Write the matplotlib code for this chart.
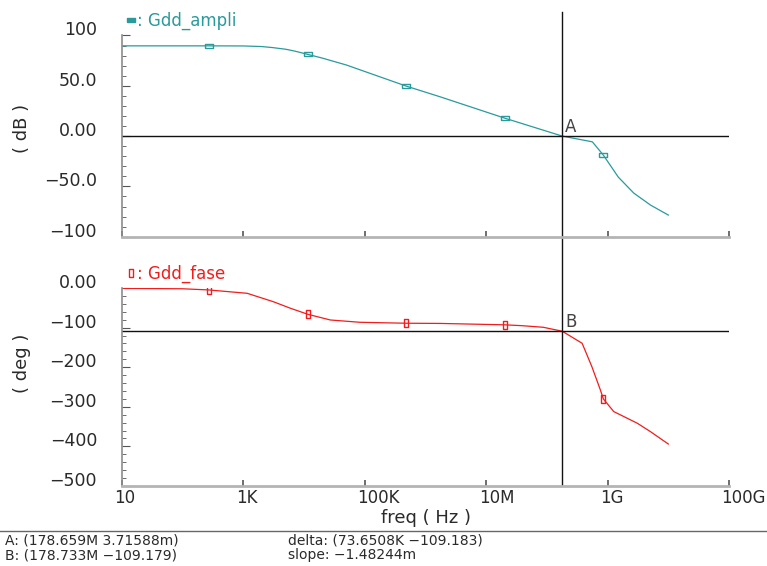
import matplotlib.pyplot as plt
from matplotlib.lines import Line2D
from matplotlib.path import Path
from matplotlib.ticker import FixedLocator, MultipleLocator, NullLocator
from matplotlib.transforms import ScaledTranslation

# Gdd_ampli: gain in dB against frequency in Hz
amp_freq = [10, 100, 270, 1e3, 2e3, 3e3, 5e3, 7e3, 1.15e4, 2e4, 5e4, 4.8e5,
            1.75e6, 2e7, 1.78659e8, 5.6e8, 8.5e8, 1.5e9, 2.7e9, 5.1e9, 1e10]
amp_db = [89.7, 89.7, 89.7, 89.6, 89.0, 88.0, 86.3, 84.5, 81.2, 77.5, 70.6, 49.7,
          39.0, 17.9, 0.0037, -5.7, -18.9, -40.8, -56.7, -68.6, -78.5]
amp_marks = [2, 8, 11, 13, 16]

# Gdd_fase: phase in degrees against frequency in Hz
pha_freq = [10, 100, 270, 1.15e3, 3.1e3, 5.9e3, 1.15e4, 2.7e4, 8.3e4, 4.8e5,
            1.75e6, 2e7, 3.9e7, 8.7e7, 1.78733e8, 3.8e8, 5.5e8, 7.6e8, 8.5e8,
            1.26e9, 3.1e9, 5.1e9, 1e10]
pha_deg = [-1, -2, -5, -13.4, -34.6, -51, -66.4, -80.8, -86.6, -89,
           -89.5, -93, -95.2, -99.2, -109.179, -139.6, -198.7, -257.6, -280,
           -312, -341.7, -362.9, -394]
pha_marks = [2, 6, 9, 11, 18]

# cursor readouts
cursor_a = (178.659e6, 3.71588e-3)
cursor_b = (178.733e6, -109.179)
readout = [
    ("A: (178.659M 3.71588m)", "delta: (73.6508K \u2212109.183)"),
    ("B: (178.733M \u2212109.179)", "slope: \u22121.48244m"),
]

x_ticks = [1e1, 1e3, 1e5, 1e7, 1e9, 1e11]
x_labels = ["10", "1K", "100K", "10M", "1G", "100G"]
amp_ticks = [-100, -50, 0, 50, 100]
amp_labels = ["\u2212100", "\u221250.0", "0.00", "50.0", "100"]
pha_ticks = [-500, -400, -300, -200, -100, 0]
pha_labels = ["\u2212500", "\u2212400", "\u2212300", "\u2212200", "\u2212100", "0.00"]

TEAL = "#2a9a9a"
RED = "#f21c1c"
INK = "#2a2a2a"

plt.rcParams["font.family"] = ["DejaVu Sans"]

# small rectangle markers used on the traces
hbox = Path([(-1, -0.42), (1, -0.42), (1, 0.42), (-1, 0.42), (-1, -0.42)])
vbox = Path([(-0.42, -1), (0.42, -1), (0.42, 1), (-0.42, 1), (-0.42, -1)])

fig = plt.figure(figsize=(7.67, 5.66), dpi=100)
ax_amp = fig.add_axes([0.1591, 0.5818, 0.7914, 0.3555])
ax_pha = fig.add_axes([0.1591, 0.1413, 0.7914, 0.3499])


def style_axes(ax, ticks, labels, minor):
    ax.set_xscale("log")
    ax.set_xlim(1e1, 1e11)
    ax.xaxis.set_major_locator(FixedLocator(x_ticks))
    ax.xaxis.set_minor_locator(NullLocator())
    ax.set_ylim(ticks[0], ticks[-1])
    ax.set_yticks(ticks, labels, va="baseline")
    ax.yaxis.set_minor_locator(MultipleLocator(minor))
    for side in ("top", "right"):
        ax.spines[side].set_visible(False)
    ax.spines["left"].set_color("#8c8c8c")
    ax.spines["left"].set_linewidth(1.2)
    ax.spines["bottom"].set_color("#b4b4b4")
    ax.spines["bottom"].set_linewidth(2)
    ax.tick_params(which="both", direction="in", colors="#555555",
                   labelcolor=INK, labelsize=12.5)
    ax.tick_params(axis="y", which="major", length=6, pad=18)
    ax.tick_params(axis="y", which="minor", length=3)
    ax.tick_params(axis="x", which="major", length=4, width=1.2, pad=2, labelsize=12)


style_axes(ax_amp, amp_ticks, amp_labels, 10)
style_axes(ax_pha, pha_ticks, pha_labels, 20)

ax_amp.tick_params(axis="x", labelbottom=False)
ax_pha.set_xticks(x_ticks, x_labels, ha="left")
for lbl in ax_pha.get_xticklabels():
    lbl.set_transform(lbl.get_transform() + ScaledTranslation(-0.075, 0, fig.dpi_scale_trans))

# traces
ax_amp.plot(amp_freq, amp_db, color=TEAL, lw=0.9, marker=hbox, ms=5.5,
            mec=TEAL, mfc="none", mew=1, markevery=amp_marks)
ax_pha.plot(pha_freq, pha_deg, color=RED, lw=0.9, marker=vbox, ms=5.5,
            mec=RED, mfc="none", mew=1, markevery=pha_marks)

# cursors
ax_amp.axvline(cursor_a[0], ymin=-0.256, ymax=1.117, color="#111111", lw=1, clip_on=False)
ax_pha.axvline(cursor_a[0], color="#111111", lw=1)
ax_amp.axhline(cursor_a[1], color="#111111", lw=1)
ax_pha.axhline(cursor_b[1], color="#111111", lw=1)
ax_amp.annotate("A", xy=cursor_a, xytext=(2, 0), textcoords="offset points",
                ha="left", va="bottom", fontsize=12, color="#444444")
ax_pha.annotate("B", xy=cursor_b, xytext=(2, 0), textcoords="offset points",
                ha="left", va="bottom", fontsize=12, color="#444444")

# legends
ax_amp.legend(handles=[Line2D([], [], ls="none", marker=hbox, ms=5.5, mec=TEAL,
                              mfc=TEAL, mew=1)],
              labels=[": Gdd_ampli"], loc="lower left", bbox_to_anchor=(0, 1),
              frameon=False, handlelength=0.5, handletextpad=0.1, borderpad=0,
              borderaxespad=0.3, fontsize=12, labelcolor=TEAL)
ax_pha.legend(handles=[Line2D([], [], ls="none", marker=vbox, ms=5.5, mec=RED,
                              mfc="none", mew=1)],
              labels=[": Gdd_fase"], loc="lower left", bbox_to_anchor=(0, 1),
              frameon=False, handlelength=0.5, handletextpad=0.1, borderpad=0,
              borderaxespad=0.3, fontsize=12, labelcolor=RED)

# axis titles
ax_amp.set_ylabel("( dB )", fontsize=13, color=INK, va="center")
ax_amp.yaxis.set_label_coords(-0.165, 0.54)
ax_pha.set_ylabel("( deg )", fontsize=13, color=INK, va="center")
ax_pha.yaxis.set_label_coords(-0.165, 0.62)
ax_pha.set_xlabel("freq ( Hz )", fontsize=13, color=INK)
ax_pha.xaxis.set_label_coords(0.5, -0.116)

# readout strip under the plots
fig.add_artist(Line2D([0, 1], [0.0618, 0.0618], color="#666666", lw=1,
                      transform=fig.transFigure))
for row, (left, right) in enumerate(readout):
    y = 0.0442 - row * 0.0248
    fig.text(0.0065, y, left, fontsize=10, color=INK, va="center")
    fig.text(0.3755, y, right, fontsize=10, color=INK, va="center")

fig.savefig("out.png", dpi=100)
